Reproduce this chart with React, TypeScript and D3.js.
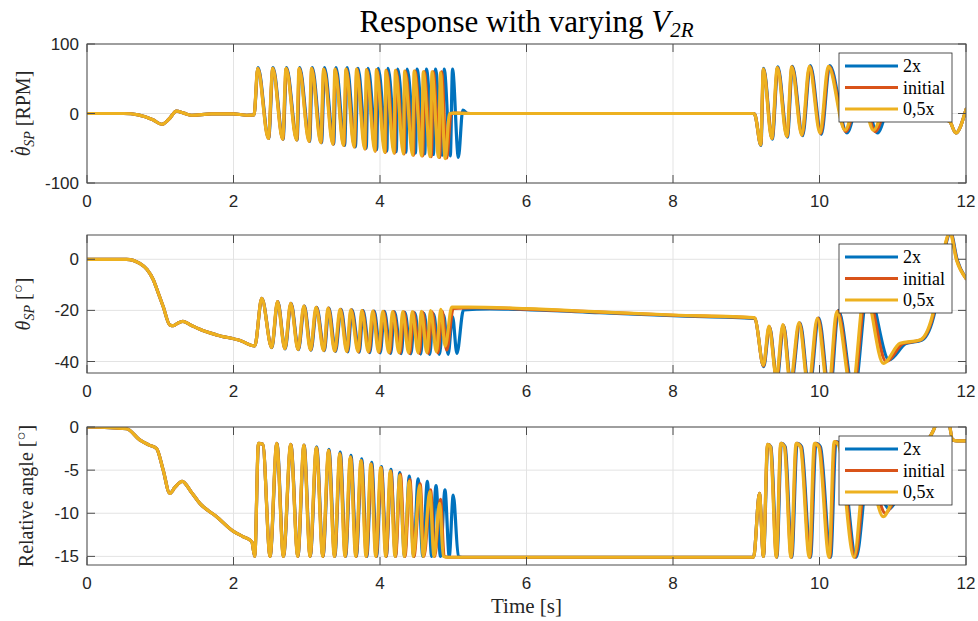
import React from "react";
import * as d3 from "d3";

type Pt = [number, number];

// ---------- tick labels / categories ----------
const timeTicks = [0, 2, 4, 6, 8, 10, 12];
const rpmTicks = [-100, 0, 100];
const angleTicks = [-40, -20, 0];
const relTicks = [-15, -10, -5, 0];
const seriesNames = ["2x", "initial", "0,5x"];

// ---------- panel 1 : speed [RPM] ----------
const rpmLead: Pt[] = [[0,0],[0.5,0],[0.7,-2],[0.9,-9],[1.02,-15.5],[1.12,-8],[1.22,3.5],[1.32,0.5],[1.43,-2.5],[1.7,-0.5],[2.0,-0.5],[2.18,-2.5],[2.28,-2]];
const rpmHalfBurst1: Pt[] = [[2.33,65],[2.475,-36],[2.535,65],[2.67,-37],[2.717,65],[2.86,-38],[2.895,65],[3.03,-40],[3.065,65],[3.19,-42],[3.23,64],[3.355,-44],[3.385,64],[3.5,-46],[3.535,64],[3.645,-48],[3.68,64],[3.79,-51],[3.815,63],[3.93,-54],[3.95,63],[4.065,-56],[4.08,62],[4.19,-57],[4.21,62],[4.32,-58],[4.335,61],[4.445,-60],[4.465,61],[4.57,-61],[4.59,60],[4.685,-62],[4.71,60],[4.8,-63],[4.825,59],[4.89,-65],[4.95,0],[5.0,0.5],[5.3,0],[9.1,0]];
const rpmInitBurst1: Pt[] = [[2.332,65],[2.477,-36],[2.537,65],[2.673,-37],[2.72,65],[2.864,-38],[2.899,65],[3.034,-40],[3.069,65],[3.195,-42],[3.235,64],[3.36,-44],[3.39,64],[3.506,-46],[3.541,64],[3.651,-48],[3.686,64],[3.797,-51],[3.822,63],[3.937,-54],[3.958,63],[4.073,-56],[4.09,62],[4.2,-57],[4.22,62],[4.33,-58],[4.347,61],[4.457,-60],[4.477,61],[4.583,-61],[4.603,60],[4.7,-62],[4.725,60],[4.815,-63],[4.84,60],[4.91,-64],[4.97,0],[5.02,0.5],[5.3,0],[9.1,0]];
const rpm2xBurst1: Pt[] = [[2.335,66],[2.48,-36],[2.54,66],[2.677,-37],[2.724,66],[2.868,-38],[2.904,66],[3.04,-40],[3.076,66],[3.202,-42],[3.243,66],[3.368,-44],[3.4,66],[3.517,-46],[3.552,66],[3.664,-48],[3.7,65],[3.812,-50],[3.838,65],[3.955,-52],[3.977,65],[4.094,-54],[4.11,65],[4.222,-55],[4.243,64],[4.355,-56],[4.372,64],[4.485,-57],[4.505,64],[4.612,-58],[4.633,64],[4.73,-59],[4.757,64],[4.85,-60],[4.876,64],[4.96,-61],[4.99,64],[5.07,-63],[5.13,5],[5.2,0],[9.1,0]];
const rpmHalfBurst2: Pt[] = [[9.12,-2],[9.197,-45],[9.233,64],[9.347,-36],[9.424,66],[9.552,-33],[9.62,67],[9.757,-31],[9.861,68],[10.007,-28],[10.12,68],[10.348,-24],[10.55,40],[10.735,-24],[10.95,25],[11.2,5],[11.5,0],[11.78,-12],[11.86,-28],[12,6]];
const rpmInitBurst2: Pt[] = [[9.12,-2],[9.198,-45],[9.235,64],[9.351,-36],[9.428,66],[9.557,-33],[9.625,67],[9.763,-31],[9.868,68],[10.016,-29],[10.13,68],[10.36,-26],[10.565,40],[10.76,-26],[10.97,25],[11.22,5],[11.5,0],[11.78,-12],[11.86,-28],[12,6]];
const rpm2xBurst2: Pt[] = [[9.12,-2],[9.2,-46],[9.237,65],[9.355,-37],[9.432,67],[9.562,-34],[9.63,68],[9.77,-32],[9.875,69],[10.025,-30],[10.14,69],[10.375,-28],[10.58,40],[10.79,-28],[11.0,25],[11.25,5],[11.5,0],[11.78,-12],[11.86,-28],[12,6]];

// ---------- panel 2 : angle [deg] ----------
const angLead: Pt[] = [[0,0],[0.54,0],[0.72,-1.6],[0.82,-4],[0.905,-8],[0.97,-13],[1.04,-18.5],[1.13,-25.7],[1.18,-26],[1.24,-25],[1.31,-24.3],[1.42,-25.8],[1.54,-27.4],[1.77,-29.6],[2.09,-31.8],[2.29,-33.9]];
const angHalfBurst1: Pt[] = [[2.385,-15.3],[2.52,-34.5],[2.6,-16.6],[2.7,-35],[2.78,-17.2],[2.88,-35.3],[2.96,-18.3],[3.05,-35.5],[3.126,-18.8],[3.23,-35.7],[3.29,-19.1],[3.38,-35.9],[3.454,-19.6],[3.545,-36],[3.6,-19.8],[3.7,-36.1],[3.75,-20.1],[3.84,-36.2],[3.9,-20.3],[3.98,-36.3],[4.037,-20.4],[4.12,-36.5],[4.17,-20.5],[4.26,-36.5],[4.31,-20.5],[4.39,-36.6],[4.44,-20.5],[4.52,-36.6],[4.564,-20.4],[4.64,-36.5],[4.69,-20.1],[4.77,-36.2],[4.83,-19.6],[4.89,-34],[4.98,-18.7],[5.2,-18.7],[6,-19.3],[7,-20.6],[8,-21.8],[9.1,-22.8]];
const angInitBurst1: Pt[] = [[2.386,-15.3],[2.521,-34.5],[2.602,-16.6],[2.702,-35],[2.783,-17.2],[2.883,-35.3],[2.964,-18.3],[3.054,-35.5],[3.131,-18.8],[3.235,-35.7],[3.296,-19.1],[3.386,-35.9],[3.461,-19.6],[3.552,-36],[3.608,-19.8],[3.708,-36.2],[3.759,-20.1],[3.85,-36.3],[3.91,-20.3],[3.99,-36.4],[4.049,-20.4],[4.133,-36.6],[4.183,-20.5],[4.274,-36.7],[4.325,-20.6],[4.406,-36.8],[4.457,-20.7],[4.538,-36.8],[4.582,-20.7],[4.659,-36.8],[4.71,-20.6],[4.79,-36.6],[4.85,-20.4],[4.91,-35.5],[5.0,-19.2],[5.3,-18.9],[6,-19.5],[7,-20.7],[8,-21.9],[9.1,-22.9]];
const ang2xBurst1: Pt[] = [[2.387,-15.3],[2.523,-34.6],[2.604,-16.6],[2.705,-35.1],[2.786,-17.2],[2.887,-35.4],[2.968,-18.3],[3.058,-35.6],[3.136,-18.8],[3.24,-35.8],[3.302,-19.1],[3.393,-36],[3.468,-19.6],[3.56,-36.2],[3.617,-19.8],[3.717,-36.3],[3.769,-20.1],[3.86,-36.5],[3.921,-20.3],[4.003,-36.6],[4.061,-20.4],[4.146,-36.8],[4.197,-20.6],[4.289,-36.9],[4.34,-20.8],[4.422,-37],[4.474,-21],[4.556,-37.1],[4.6,-21.2],[4.678,-37.2],[4.73,-21.4],[4.81,-37.2],[4.87,-21.8],[4.93,-37.2],[4.99,-22.4],[5.05,-36.8],[5.14,-19.8],[5.5,-19.4],[6,-19.7],[7,-20.9],[8,-22.1],[9.1,-23.1]];
const angHalfBurst2: Pt[] = [[9.12,-23.1],[9.233,-41.4],[9.31,-26.1],[9.41,-46],[9.5,-25.6],[9.6,-48],[9.72,-24.8],[9.847,-50],[9.97,-23.1],[10.12,-52],[10.235,-20.5],[10.44,-52],[10.62,-12],[10.87,-40.7],[11.1,-32.9],[11.37,-31.6],[11.56,-19.8],[11.7,4],[11.78,10.5],[11.87,-0.3],[12,-7.5]];
const angInitBurst2: Pt[] = [[9.12,-23.2],[9.235,-41.7],[9.314,-26.3],[9.415,-46.5],[9.505,-25.8],[9.606,-48.5],[9.727,-24.9],[9.854,-50.5],[9.98,-23],[10.13,-52.5],[10.248,-20.2],[10.455,-52.5],[10.64,-12],[10.91,-40],[11.14,-33],[11.38,-31.6],[11.57,-19.8],[11.705,4],[11.785,10.5],[11.875,-0.3],[12,-7.5]];
const ang2xBurst2: Pt[] = [[9.12,-23.3],[9.238,-42],[9.318,-26.5],[9.42,-47],[9.51,-26],[9.612,-49],[9.735,-25],[9.862,-51],[9.99,-23],[10.14,-53],[10.26,-20],[10.47,-53],[10.66,-12],[10.95,-39.4],[11.18,-33],[11.4,-31.6],[11.58,-19.8],[11.71,4],[11.79,10.5],[11.88,-0.3],[12,-7.5]];

// ---------- panel 3 : relative angle [deg] ----------
const relLead: Pt[] = [[0,0],[0.54,-0.2],[0.72,-1.5],[0.85,-2.1],[0.95,-2.5],[1.04,-5],[1.13,-7.7],[1.2,-7.0],[1.3,-6.3],[1.42,-7.5],[1.54,-8.85],[1.77,-10.4],[2.0,-12.1],[2.13,-12.7],[2.25,-13.3],[2.29,-15]];
const relHalfBurst1: Pt[] = [[2.34,-1.9],[2.4,-2.0],[2.498,-15],[2.59,-1.9],[2.68,-15],[2.78,-2],[2.876,-15],[2.96,-2.1],[3.044,-15],[3.13,-2.4],[3.217,-15],[3.297,-2.7],[3.377,-15],[3.45,-3.1],[3.522,-15],[3.595,-3.5],[3.668,-15],[3.74,-3.9],[3.809,-15],[3.875,-4.3],[3.941,-15],[4.01,-4.7],[4.078,-15],[4.14,-5.1],[4.205,-15],[4.27,-5.6],[4.332,-15],[4.4,-6.3],[4.455,-15],[4.54,-6.8],[4.591,-15],[4.68,-7.5],[4.737,-15],[4.815,-8.85],[4.864,-15],[4.92,-15.1],[9.1,-15.1]];
const relInitBurst1: Pt[] = [[2.341,-1.9],[2.4,-2.0],[2.499,-15],[2.591,-1.9],[2.682,-15],[2.782,-2],[2.878,-15],[2.962,-2.1],[3.046,-15],[3.133,-2.4],[3.22,-15],[3.3,-2.7],[3.38,-15],[3.454,-3.1],[3.526,-15],[3.6,-3.5],[3.673,-15],[3.745,-3.9],[3.815,-15],[3.881,-4.3],[3.947,-15],[4.016,-4.7],[4.084,-15],[4.147,-5.1],[4.212,-15],[4.278,-5.5],[4.34,-15],[4.408,-6.1],[4.463,-15],[4.548,-6.6],[4.6,-15],[4.69,-7.3],[4.746,-15],[4.825,-8.4],[4.875,-15],[4.93,-15.1],[9.1,-15.1]];
const rel2xBurst1: Pt[] = [[2.342,-1.9],[2.4,-2.0],[2.5,-15],[2.593,-1.9],[2.683,-15],[2.783,-2],[2.879,-15],[2.964,-2.1],[3.048,-15],[3.135,-2.3],[3.222,-15],[3.303,-2.6],[3.383,-15],[3.457,-2.9],[3.53,-15],[3.604,-3.3],[3.677,-15],[3.75,-3.7],[3.82,-15],[3.887,-4.1],[3.953,-15],[4.02,-4.6],[4.085,-15],[4.15,-4.9],[4.21,-15],[4.27,-5.3],[4.335,-15],[4.4,-5.7],[4.46,-15],[4.52,-6.0],[4.585,-15],[4.646,-6.3],[4.705,-15],[4.765,-6.8],[4.825,-15],[4.887,-7.3],[4.945,-15],[5.0,-7.9],[5.07,-15],[5.12,-15.1],[9.1,-15.1]];
const relHalfBurst2: Pt[] = [[9.18,-7.7],[9.233,-15],[9.29,-2.0],[9.33,-2.3],[9.41,-15.1],[9.47,-1.9],[9.52,-2.3],[9.61,-15.1],[9.68,-1.9],[9.74,-2.3],[9.86,-15.1],[9.93,-1.9],[9.99,-2.3],[10.13,-15.1],[10.2,-1.7],[10.26,-2.1],[10.47,-15.1],[10.63,-4],[10.87,-10.4],[11.0,-8.5],[11.3,-4],[11.55,-0.5],[11.66,1.5],[11.74,1.5],[11.82,-1.5],[11.88,-1.6],[12,-1.6]];
const relInitBurst2: Pt[] = [[9.18,-7.7],[9.234,-15],[9.292,-2.0],[9.333,-2.3],[9.413,-15.1],[9.474,-1.9],[9.525,-2.3],[9.615,-15.1],[9.686,-1.9],[9.747,-2.3],[9.868,-15.1],[9.94,-1.9],[10.0,-2.3],[10.14,-15.1],[10.21,-1.7],[10.275,-2.1],[10.485,-15.1],[10.65,-4],[10.9,-10],[11.02,-8.5],[11.3,-4],[11.55,-0.5],[11.66,1.5],[11.74,1.5],[11.82,-1.5],[11.88,-1.6],[12,-1.6]];
const rel2xBurst2: Pt[] = [[9.18,-7.7],[9.235,-15],[9.295,-2.0],[9.337,-2.3],[9.418,-15.1],[9.48,-1.9],[9.532,-2.3],[9.622,-15.1],[9.695,-1.9],[9.757,-2.3],[9.877,-15.1],[9.952,-1.9],[10.013,-2.3],[10.152,-15.1],[10.225,-1.7],[10.29,-2.1],[10.5,-15.1],[10.68,-4],[10.95,-9.5],[11.05,-8.5],[11.3,-4],[11.55,-0.5],[11.66,1.5],[11.74,1.5],[11.82,-1.5],[11.88,-1.6],[12,-1.6]];

const COLORS = ["#0072BD", "#D95319", "#EDB120"];
const SERIF = "'Liberation Serif', 'DejaVu Serif', serif";
const SANS = "'Liberation Sans', Arial, Helvetica, sans-serif";

const X0 = 87, X1 = 966;
const x = d3.scaleLinear().domain([0, 12]).range([X0, X1]);

type Panel = {
  top: number; bottom: number; domain: [number, number]; ticks: number[];
  series: Pt[][]; label: React.ReactNode; labelX: number;
};

const degree = (
  <>
    <tspan>{"["}</tspan>
    <tspan fontSize="15" dy="-7">{"○"}</tspan>
    <tspan dy="7">]</tspan>
  </>
);

const panels: Panel[] = [
  {
    top: 44, bottom: 183, domain: [-100, 100], ticks: rpmTicks, labelX: 30,
    series: [
      [...rpmLead, ...rpm2xBurst1, ...rpm2xBurst2],
      [...rpmLead, ...rpmInitBurst1, ...rpmInitBurst2],
      [...rpmLead, ...rpmHalfBurst1, ...rpmHalfBurst2],
    ],
    label: (<>
      <tspan fontStyle="italic">θ</tspan>
      <tspan dx="-8" dy="-5">{"˙"}</tspan>
      <tspan fontStyle="italic" fontSize="14" dx="1" dy="9">SP</tspan>
      <tspan dy="-4">{"  [RPM]"}</tspan>
    </>),
  },
  {
    top: 235, bottom: 373, domain: [-44.5, 9.5], ticks: angleTicks, labelX: 30,
    series: [
      [...angLead, ...ang2xBurst1, ...ang2xBurst2],
      [...angLead, ...angInitBurst1, ...angInitBurst2],
      [...angLead, ...angHalfBurst1, ...angHalfBurst2],
    ],
    label: (<>
      <tspan fontStyle="italic">θ</tspan>
      <tspan fontStyle="italic" fontSize="14" dy="4">SP</tspan>
      <tspan dy="-4">{"  "}</tspan>
      {degree}
    </>),
  },
  {
    top: 427, bottom: 565, domain: [-16, 0], ticks: relTicks, labelX: 33,
    series: [
      [...relLead, ...rel2xBurst1, ...rel2xBurst2],
      [...relLead, ...relInitBurst1, ...relInitBurst2],
      [...relLead, ...relHalfBurst1, ...relHalfBurst2],
    ],
    label: (<>
      <tspan>{"Relative angle "}</tspan>
      {degree}
    </>),
  },
];

function PanelView({ p, idx }: { p: Panel; idx: number }) {
  const y = d3.scaleLinear().domain(p.domain).range([p.bottom, p.top]);
  const line = d3.line<Pt>().x(d => x(d[0])).y(d => y(d[1])).curve(d3.curveMonotoneX);
  const clipId = `clip${idx}`;
  const tick = 8;
  const axisColor = "#4d4d4d";
  const lgTop = p.top + 9;
  const lgX = 839, lgW = 113, lgH = 69;
  return (
    <g>
      <defs>
        <clipPath id={clipId}>
          <rect x={X0} y={p.top} width={X1 - X0} height={p.bottom - p.top} />
        </clipPath>
      </defs>
      <rect x={X0} y={p.top} width={X1 - X0} height={p.bottom - p.top} fill="#fff" />
      {timeTicks.map(t => (
        <line key={"gx" + t} x1={x(t)} x2={x(t)} y1={p.top} y2={p.bottom} stroke="#e3e3e3" strokeWidth={1} />
      ))}
      {p.ticks.map(v => (
        <line key={"gy" + v} x1={X0} x2={X1} y1={y(v)} y2={y(v)} stroke="#e3e3e3" strokeWidth={1} />
      ))}
      <g clipPath={`url(#${clipId})`}>
        {p.series.map((s, i) => (
          <path key={i} d={line(s) || ""} fill="none" stroke={COLORS[i]} strokeWidth={3.2} strokeLinejoin="round" strokeLinecap="round" />
        ))}
      </g>
      <rect x={X0} y={p.top} width={X1 - X0} height={p.bottom - p.top} fill="none" stroke={axisColor} strokeWidth={1} />
      {timeTicks.map(t => (
        <g key={"tx" + t}>
          <line x1={x(t)} x2={x(t)} y1={p.bottom} y2={p.bottom - tick} stroke={axisColor} />
          <line x1={x(t)} x2={x(t)} y1={p.top} y2={p.top + tick} stroke={axisColor} />
          <text x={x(t)} y={p.bottom + 24} textAnchor="middle" fontFamily={SANS} fontSize={17} fill="#262626">{t}</text>
        </g>
      ))}
      {p.ticks.map(v => (
        <g key={"ty" + v}>
          <line x1={X0} x2={X0 + tick} y1={y(v)} y2={y(v)} stroke={axisColor} />
          <line x1={X1} x2={X1 - tick} y1={y(v)} y2={y(v)} stroke={axisColor} />
          <text x={79} y={y(v) + 6} textAnchor="end" fontFamily={SANS} fontSize={17} fill="#262626">{v}</text>
        </g>
      ))}
      <text transform={`translate(${p.labelX},${(p.top + p.bottom) / 2}) rotate(-90)`} textAnchor="middle"
        fontFamily={SERIF} fontSize={20} fill="#262626">{p.label}</text>
      <rect x={lgX} y={lgTop} width={lgW} height={lgH} fill="#fff" stroke="#262626" strokeWidth={0.8} />
      {seriesNames.map((n, i) => {
        const ly = lgTop + 13 + i * 21.5;
        return (
          <g key={n}>
            <line x1={845} x2={898} y1={ly} y2={ly} stroke={COLORS[i]} strokeWidth={3.2} />
            <text x={903} y={ly + 6} fontFamily={SERIF} fontSize={18} fill="#000">{n}</text>
          </g>
        );
      })}
    </g>
  );
}

export default function App() {
  return (
    <svg width={978} height={621} style={{ position: "absolute", left: 0, top: 0, background: "#fff" }}>
      <rect width={978} height={621} fill="#fff" />
      <text x={(X0 + X1) / 2} y={32} textAnchor="middle" fontFamily={SERIF} fontSize={31} fill="#000">
        <tspan>{"Response with varying "}</tspan>
        <tspan fontStyle="italic">V</tspan>
        <tspan fontStyle="italic" fontSize={21} dy={5}>2R</tspan>
      </text>
      {panels.map((p, i) => <PanelView key={i} p={p} idx={i} />)}
      <text x={(X0 + X1) / 2} y={613} textAnchor="middle" fontFamily={SERIF} fontSize={21} fill="#262626">Time [s]</text>
    </svg>
  );
}
